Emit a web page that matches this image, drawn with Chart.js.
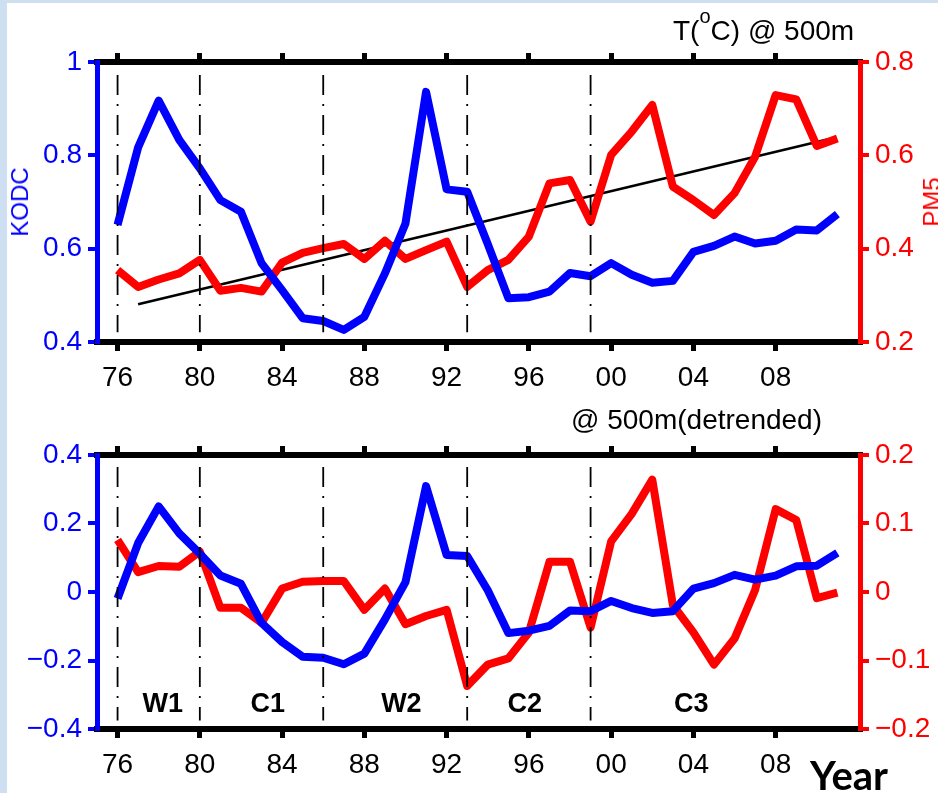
<!DOCTYPE html>
<html lang="en">
<head>
  <meta charset="UTF-8">
  <title>KODC and PM5 temperature at 500m</title>

  <!-- Chart.js CDN -->
  <script src="https://cdn.jsdelivr.net/npm/chart.js"></script>

  <style>
    html, body { margin: 0; padding: 0; }
    body {
      width: 938px;
      height: 793px;
      overflow: hidden;
      position: relative;
      background: #cddff0;
      font-family: 'Liberation Sans', Arial, sans-serif;
    }
    .sheet {
      position: absolute;
      left: 7px; top: 3px; right: 0; bottom: 0;
      background: #ffffff;
    }
    canvas { position: absolute; left: 0; }
    .lbl {
      position: absolute;
      white-space: nowrap;
      font-size: 28px;
      line-height: 28px;
      color: #000;
    }
    .lbl .sup { font-size: 20px; position: relative; top: -17px; }
    .vlbl {
      position: absolute;
      white-space: nowrap;
      font-size: 24px;
      line-height: 24px;
      transform: translate(-50%, -50%) rotate(-90deg);
    }
    .year {
      position: absolute;
      left: 810px; top: 755px;
      font-family: Lato, 'Open Sans', sans-serif;
      font-weight: bold;
      font-size: 40px;
      line-height: 40px;
      color: #000;
    }
  </style>
</head>
<body>
  <div class="sheet"></div>

  <canvas id="rawChart" width="938" height="393" style="top:0"></canvas>
  <canvas id="detrendChart" width="938" height="400" style="top:393px"></canvas>

  <!-- Axis titles and panel captions -->
  <div class="vlbl" style="left:20px; top:202px; color:#0000ff;">KODC</div>
  <div class="vlbl" style="left:932px; top:202px; color:#ff0000;">PM5</div>
  <div class="lbl" style="left:673px; top:17px;">T(<span class="sup">o</span>C) @ 500m</div>
  <div class="lbl" style="left:571px; top:406px;">@ 500m(detrended)</div>
  <div class="year">Year</div>

  <script>
    // Annual series, 1976-2011
    const years = [1976, 1977, 1978, 1979, 1980, 1981, 1982, 1983, 1984, 1985, 1986, 1987,
                   1988, 1989, 1990, 1991, 1992, 1993, 1994, 1995, 1996, 1997, 1998, 1999,
                   2000, 2001, 2002, 2003, 2004, 2005, 2006, 2007, 2008, 2009, 2010, 2011];

    const kodc = [0.651, 0.817, 0.917, 0.833, 0.772, 0.704, 0.679, 0.569, 0.511, 0.451, 0.445, 0.426,
                  0.454, 0.547, 0.654, 0.936, 0.727, 0.722, 0.610, 0.494, 0.496, 0.508, 0.548, 0.541,
                  0.569, 0.544, 0.527, 0.531, 0.593, 0.606, 0.626, 0.611, 0.617, 0.641, 0.639, 0.674];

    const pm5 = [0.354, 0.318, 0.334, 0.347, 0.376, 0.310, 0.316, 0.308, 0.370, 0.391, 0.401, 0.410,
                 0.378, 0.417, 0.378, 0.397, 0.415, 0.318, 0.354, 0.376, 0.426, 0.540, 0.547, 0.458,
                 0.601, 0.651, 0.708, 0.533, 0.504, 0.472, 0.519, 0.597, 0.729, 0.720, 0.620, 0.636];

    const kodcDetrended = [-0.019, 0.143, 0.250, 0.171, 0.112, 0.048, 0.024, -0.090, -0.146, -0.189, -0.192, -0.211,
                           -0.180, -0.080, 0.029, 0.309, 0.108, 0.105, 0.005, -0.120, -0.113, -0.099, -0.054, -0.056,
                           -0.026, -0.047, -0.061, -0.056, 0.010, 0.026, 0.050, 0.036, 0.048, 0.075, 0.077, 0.114];

    const pm5Detrended = [0.076, 0.029, 0.038, 0.037, 0.059, -0.023, -0.023, -0.045, 0.005, 0.015, 0.016, 0.016,
                          -0.026, 0.005, -0.047, -0.035, -0.026, -0.137, -0.106, -0.097, -0.059, 0.044, 0.044, -0.052,
                          0.074, 0.114, 0.164, -0.019, -0.059, -0.106, -0.068, 0.003, 0.121, 0.105, -0.009, -0.001];

    // Linear trend of PM5
    const trendYears = [1977, 2010.5];
    const pm5Trend = [0.281, 0.634];

    // Regime boundaries and names
    const periodBreaks = [1976, 1980, 1986, 1993, 1999];
    const periodNames = ['W1', 'C1', 'W2', 'C2', 'C3'];
    const periodCentres = [1978.2, 1983.3, 1989.8, 1995.8, 2003.9];

    // Tick values and labels
    const yearTicks = [1976, 1980, 1984, 1988, 1992, 1996, 2000, 2004, 2008];
    const yearTickLabels = ['76', '80', '84', '88', '92', '96', '00', '04', '08'];
    const kodcTicks = [0.4, 0.6, 0.8, 1];
    const kodcTickLabels = ['0.4', '0.6', '0.8', '1'];
    const pm5Ticks = [0.2, 0.4, 0.6, 0.8];
    const pm5TickLabels = ['0.2', '0.4', '0.6', '0.8'];
    const kodcDtTicks = [-0.4, -0.2, 0, 0.2, 0.4];
    const kodcDtTickLabels = ['\u22120.4', '\u22120.2', '0', '0.2', '0.4'];
    const pm5DtTicks = [-0.2, -0.1, 0, 0.1, 0.2];
    const pm5DtTickLabels = ['\u22120.2', '\u22120.1', '0', '0.1', '0.2'];

    const FONT = "'Liberation Sans', Arial, sans-serif";
    const BLUE = '#0000ff';
    const RED = '#ff0000';

    function pairs(xs, ys) {
      return xs.map((x, i) => ({ x: x, y: ys[i] }));
    }

    function series(values, axis, color) {
      return {
        data: pairs(years, values),
        yAxisID: axis,
        borderColor: color,
        borderWidth: 8,
        borderJoinStyle: 'round',
        pointRadius: 0,
        tension: 0
      };
    }

    // dash-dot verticals at each regime boundary
    function breakLines(hi, lo) {
      return periodBreaks.map(yr => ({
        data: [{ x: yr, y: hi }, { x: yr, y: lo }],
        yAxisID: 'y',
        borderColor: '#000',
        borderWidth: 1.8,
        borderDash: [20, 9, 2, 9],
        pointRadius: 0
      }));
    }

    function xAxis(position, size, showLabels) {
      return {
        type: 'linear',
        position: position,
        min: 1975,
        max: 2012.1,
        afterBuildTicks: s => { s.ticks = yearTicks.map(v => ({ value: v })); },
        afterFit: s => { s.height = size; },
        ticks: {
          display: showLabels,
          padding: 10,
          color: '#000',
          maxRotation: 0,
          autoSkip: false,
          font: { size: 28, family: FONT },
          callback: (v, i) => yearTickLabels[i]
        },
        grid: { drawOnChartArea: false, color: '#000', lineWidth: 5, tickLength: 9 },
        border: { color: '#000', width: 6 }
      };
    }

    function yAxis(position, min, max, tickVals, tickLabels, color, width) {
      return {
        type: 'linear',
        position: position,
        min: min,
        max: max,
        afterBuildTicks: s => { s.ticks = tickVals.map(v => ({ value: v })); },
        afterFit: s => { s.width = width; },
        ticks: {
          padding: 6,
          color: color,
          font: { size: 28, family: FONT },
          callback: (v, i) => tickLabels[i]
        },
        grid: { drawOnChartArea: false, color: color, lineWidth: 4, tickLength: 9 },
        border: { color: color, width: 5 }
      };
    }

    // W1 / C1 / ... captions inside the lower panel
    const periodLabelPlugin = {
      id: 'periodLabels',
      afterDatasetsDraw(chart, args, opts) {
        if (!opts.names) return;
        const ctx = chart.ctx;
        const xs = chart.scales.x;
        const ys = chart.scales.y;
        ctx.save();
        ctx.font = 'bold 27px ' + FONT;
        ctx.fillStyle = '#000';
        ctx.textAlign = 'center';
        ctx.textBaseline = 'middle';
        opts.names.forEach((name, i) => {
          ctx.fillText(name, xs.getPixelForValue(opts.at[i]), ys.getPixelForValue(opts.level));
        });
        ctx.restore();
      }
    };

    const common = {
      responsive: false,
      animation: false,
      devicePixelRatio: 1,
      layout: { padding: 0 },
      plugins: { legend: { display: false }, tooltip: { enabled: false } }
    };

    // Upper panel: raw temperature
    new Chart(document.getElementById('rawChart'), {
      type: 'line',
      data: {
        datasets: [
          ...breakLines(0.972, 0.421),
          series(kodc, 'y', BLUE),
          series(pm5, 'y1', RED),
          {
            data: pairs(trendYears, pm5Trend),
            yAxisID: 'y1',
            borderColor: '#000',
            borderWidth: 2.5,
            pointRadius: 0
          }
        ]
      },
      options: {
        ...common,
        scales: {
          x: xAxis('bottom', 51, true),
          xTop: xAxis('top', 62, false),
          y: yAxis('left', 0.4, 1, kodcTicks, kodcTickLabels, BLUE, 97),
          y1: yAxis('right', 0.2, 0.8, pm5Ticks, pm5TickLabels, RED, 78)
        }
      }
    });

    // Lower panel: detrended temperature
    new Chart(document.getElementById('detrendChart'), {
      type: 'line',
      data: {
        datasets: [
          ...breakLines(0.365, -0.375),
          series(kodcDetrended, 'y', BLUE),
          series(pm5Detrended, 'y1', RED)
        ]
      },
      options: {
        ...common,
        plugins: {
          ...common.plugins,
          periodLabels: { names: periodNames, at: periodCentres, level: -0.33 }
        },
        scales: {
          x: xAxis('bottom', 64, true),
          xTop: xAxis('top', 62, false),
          y: yAxis('left', -0.4, 0.4, kodcDtTicks, kodcDtTickLabels, BLUE, 97),
          y1: yAxis('right', -0.2, 0.2, pm5DtTicks, pm5DtTickLabels, RED, 78)
        }
      },
      plugins: [periodLabelPlugin]
    });
  </script>
</body>
</html>
